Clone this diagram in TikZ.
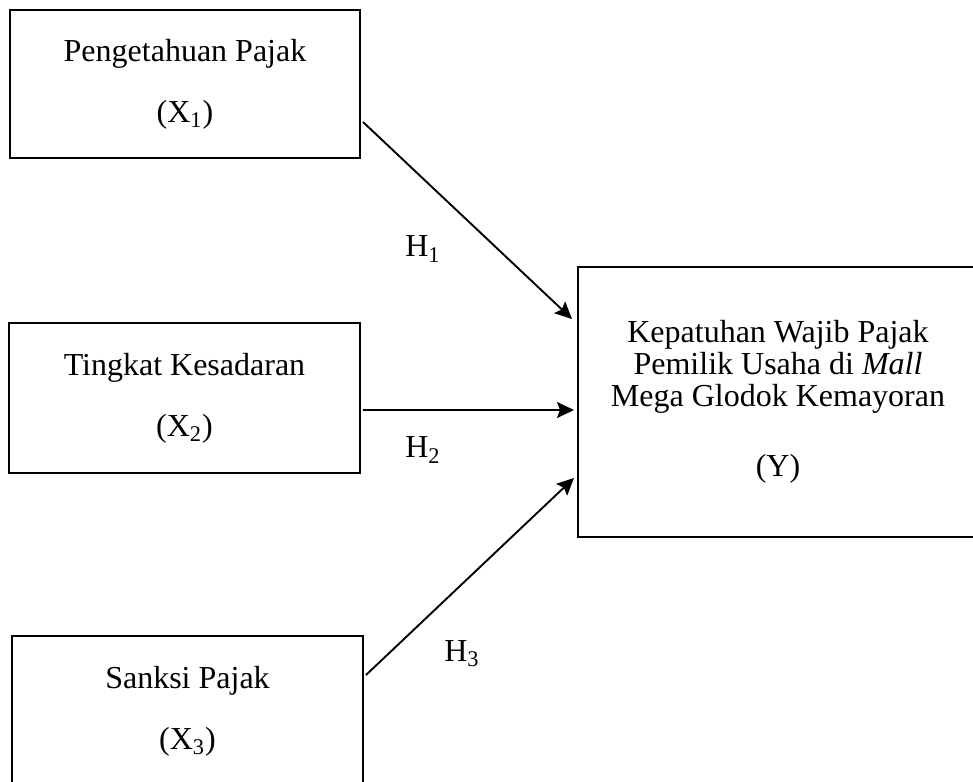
\documentclass[tikz,border=0pt]{standalone}
\usepackage{fontspec}
\setmainfont{Liberation Serif}
\usetikzlibrary{arrows.meta}

\begin{document}
\begin{tikzpicture}[x=0.5pt, y=-0.5pt,
  every node/.style={font=\fontsize{16}{16}\selectfont},
  varbox/.style={draw, line width=1pt, align=center, inner sep=0pt},
  hyp/.style={->, line width=0.95pt},
  >={Stealth[length=8.5pt, width=8pt, inset=1.5pt]}]
\useasboundingbox (0,0) rectangle (973,781);
\node[varbox, minimum width=175pt, minimum height=74pt] (X1) at (185,84)
  {Pengetahuan Pajak\\[14.5pt](X\textsubscript{1})};
\node[varbox, minimum width=175.5pt, minimum height=75pt] (X2) at (184.5,398)
  {Tingkat Kesadaran\\[14.5pt](X\textsubscript{2})};
\node[varbox, minimum width=175.5pt, minimum height=75pt] (X3) at (187.5,711)
  {Sanksi Pajak\\[14.5pt](X\textsubscript{3})};
\node[varbox, minimum width=200pt, minimum height=135pt] (Y) at (778,402)
  {Kepatuhan Wajib Pajak\\Pemilik Usaha di \textit{Mall}\\Mega Glodok Kemayoran\\[19pt](Y)};
\draw[hyp] ([xshift=1pt,yshift=-19pt]X1.east) -- ([xshift=-2.5pt,yshift=41.5pt]Y.west);
\draw[hyp] ([xshift=1pt,yshift=-6pt]X2.east) -- ([xshift=-1.5pt,yshift=-4pt]Y.west);
\draw[hyp] ([xshift=1pt,yshift=18pt]X3.east) -- ([xshift=-1.5pt,yshift=-38pt]Y.west);
\node (H1) at (423,249) {H\textsubscript{1}};
\node (H2) at (423,450) {H\textsubscript{2}};
\node (H3) at (462,654) {H\textsubscript{3}};
\end{tikzpicture}
\end{document}
